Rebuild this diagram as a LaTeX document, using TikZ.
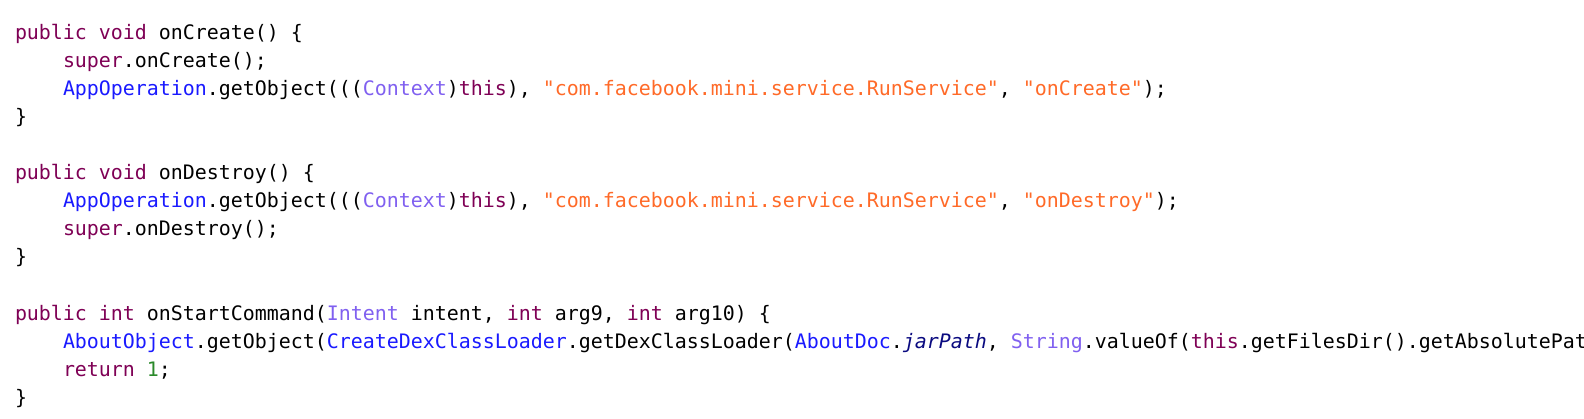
\documentclass[tikz,border=0pt]{standalone}
\usepackage{fontspec}
\newfontfamily\codefont{DejaVu Sans Mono}
\definecolor{kwcol}{HTML}{7F0055}
\definecolor{clscol}{HTML}{1A1AFF}
\definecolor{typcol}{HTML}{8060F0}
\definecolor{strcol}{HTML}{FF6A28}
\definecolor{fldcol}{HTML}{0A0A80}
\definecolor{numcol}{HTML}{2A8A2A}
\newcommand\kwd[1]{\textcolor{kwcol}{#1}}
\newcommand\clsn[1]{\textcolor{clscol}{#1}}
\newcommand\typn[1]{\textcolor{typcol}{#1}}
\newcommand\strg[1]{\textcolor{strcol}{#1}}
\newcommand\fldn[1]{\textcolor{fldcol}{\itshape #1}}
\newcommand\cnum[1]{\textcolor{numcol}{#1}}
\tikzset{
  codeline/.style={anchor=base west, inner sep=0pt, outer sep=0pt,
    font=\codefont\fontsize{19.93pt}{28pt}\selectfont, text=black}
}
\begin{document}
\begin{tikzpicture}[x=1pt,y=1pt]
\useasboundingbox (0,0) rectangle (1584,-418);
\fill[white] (0,0) rectangle (1584,-418);
\clip (0,0) rectangle (1584,-418);
\def\lx{15}
\def\ix{63}
\node[codeline] (l0) at (\lx,-39.5) {\kwd{public void} onCreate() \{};
\node[codeline] (l1) at (\ix,-67.55) {\kwd{super}.onCreate();};
\node[codeline] (l2) at (\ix,-95.6) {\clsn{AppOperation}.getObject(((\typn{Context})\kwd{this}), \strg{"com.facebook.mini.service.RunService"}, \strg{"onCreate"});};
\node[codeline] (l3) at (\lx,-123.65) {\}};
\node[codeline] (l5) at (\lx,-179.75) {\kwd{public void} onDestroy() \{};
\node[codeline] (l6) at (\ix,-207.8) {\clsn{AppOperation}.getObject(((\typn{Context})\kwd{this}), \strg{"com.facebook.mini.service.RunService"}, \strg{"onDestroy"});};
\node[codeline] (l7) at (\ix,-235.85) {\kwd{super}.onDestroy();};
\node[codeline] (l8) at (\lx,-263.9) {\}};
\node[codeline] (l10) at (\lx,-320) {\kwd{public int} onStartCommand(\typn{Intent} intent, \kwd{int} arg9, \kwd{int} arg10) \{};
\node[codeline] (l11) at (\ix,-348.05) {\clsn{AboutObject}.getObject(\clsn{CreateDexClassLoader}.getDexClassLoader(\clsn{AboutDoc}.\fldn{jarPath}, \typn{String}.valueOf(\kwd{this}.getFilesDir().getAbsolutePath};
\node[codeline] (l12) at (\ix,-376.1) {\kwd{return} \cnum{1};};
\node[codeline] (l13) at (\lx,-404.15) {\}};
\end{tikzpicture}
\end{document}
